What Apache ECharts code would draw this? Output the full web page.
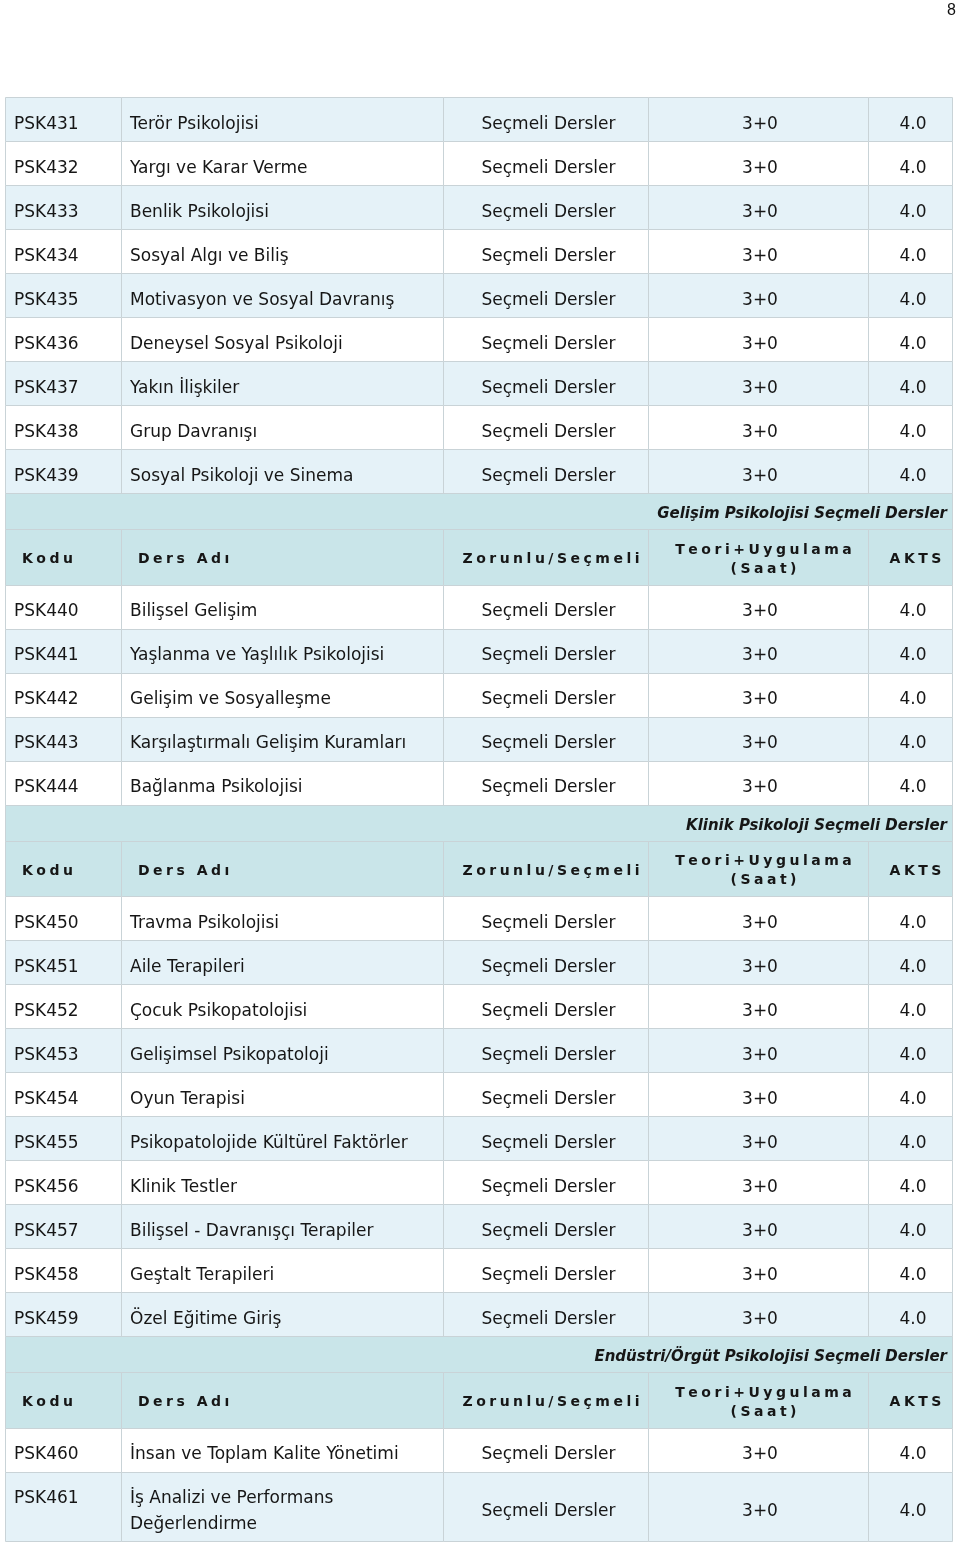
<!DOCTYPE html>
<html><head><meta charset="utf-8">
<script src="https://cdn.jsdelivr.net/npm/echarts@6/dist/echarts.min.js"></script>
<style>html,body{margin:0;padding:0;background:#fff}#c{width:960px;height:1548px}</style>
</head><body><div id="c"></div>
<script>
const pageNumber = '8';
const codes = ['PSK431','PSK432','PSK433','PSK434','PSK435','PSK436','PSK437','PSK438','PSK439',
  'PSK440','PSK441','PSK442','PSK443','PSK444',
  'PSK450','PSK451','PSK452','PSK453','PSK454','PSK455','PSK456','PSK457','PSK458','PSK459',
  'PSK460','PSK461'];
const names = ['Terör Psikolojisi','Yargı ve Karar Verme','Benlik Psikolojisi','Sosyal Algı ve Biliş',
  'Motivasyon ve Sosyal Davranış','Deneysel Sosyal Psikoloji','Yakın İlişkiler','Grup Davranışı',
  'Sosyal Psikoloji ve Sinema',
  'Bilişsel Gelişim','Yaşlanma ve Yaşlılık Psikolojisi','Gelişim ve Sosyalleşme',
  'Karşılaştırmalı Gelişim Kuramları','Bağlanma Psikolojisi',
  'Travma Psikolojisi','Aile Terapileri','Çocuk Psikopatolojisi','Gelişimsel Psikopatoloji',
  'Oyun Terapisi','Psikopatolojide Kültürel Faktörler','Klinik Testler',
  'Bilişsel - Davranışçı Terapiler','Geştalt Terapileri','Özel Eğitime Giriş',
  'İnsan ve Toplam Kalite Yönetimi','İş Analizi ve Performans Değerlendirme'];
const types = Array(26).fill('Seçmeli Dersler');
const hours = Array(26).fill('3+0');
const credits = Array(26).fill('4.0');
const sectionTitles = ['Gelişim Psikolojisi Seçmeli Dersler','Klinik Psikoloji Seçmeli Dersler',
  'Endüstri/Örgüt Psikolojisi Seçmeli Dersler'];
const sectionStarts = [9, 14, 24];
const headerLabels = ['Kodu','Ders Adı','Zorunlu/Seçmeli','Teori+Uygulama\n(Saat)','AKTS'];

// ---- layout ----
const FONT = '"DejaVu Sans", Verdana, sans-serif';
const colEdges = [0, 115.5, 438, 643, 863, 947];
const TOTAL_W = 947;
const ROW_H = 44, TITLE_H = 36, HEAD_H = 55.5, LINE_H = 26;
const BLUE = '#e5f2f8', TEAL = '#c9e5e9', BORDER = '#c9d3d7', TXT = '#161616';

const mctx = document.createElement('canvas').getContext('2d');
mctx.font = '17px ' + FONT;
function wrap(text, avail) {
  const words = text.split(' '); const lines = []; let cur = '';
  words.forEach(w => {
    const t = cur ? cur + ' ' + w : w;
    if (cur && mctx.measureText(t).width > avail) { lines.push(cur); cur = w; } else cur = t;
  });
  lines.push(cur); return lines;
}
const spaced = s => s.split('\n').map(l => l.split('').join('\u2005')).join('\n');

const rows = []; let y = 0;
function addData(i, blue) {
  const lines = wrap(names[i], colEdges[2] - colEdges[1] - 14);
  const h = ROW_H + (lines.length - 1) * (LINE_H - 1);
  rows.push({kind: 'data', i, blue, nameText: lines.join('\n'), y0: y, y1: y + h}); y += h;
}
const bounds = [0].concat(sectionStarts, [codes.length]);
for (let b = 0; b < bounds.length - 1; b++) {
  if (b > 0) {
    rows.push({kind: 'title', text: sectionTitles[b - 1], y0: y, y1: y + TITLE_H}); y += TITLE_H;
    rows.push({kind: 'header', y0: y, y1: y + HEAD_H}); y += HEAD_H;
  }
  for (let i = bounds[b], k = 0; i < bounds[b + 1]; i++, k++) addData(i, b === 0 ? k % 2 === 0 : k % 2 === 1);
}
const TOTAL_H = y;

function txt(text, x, yy, align, vAlign, font, extra) {
  return {type: 'text', silent: true, style: Object.assign({text, x, y: yy, align, verticalAlign: vAlign,
    font, fill: TXT, lineHeight: LINE_H}, extra || {})};
}
function renderItem(params, api) {
  const r = rows[params.dataIndex];
  const top = api.coord([0, r.y0])[1], bot = api.coord([0, r.y1])[1];
  const xs = colEdges.map(e => api.coord([e, r.y0])[0]);
  const h = bot - top;
  const px = v => Math.round(v) + 0.5;
  const children = [];
  const rect = (x0, x1, fill) => children.push({type: 'rect', silent: true,
    shape: {x: px(x0), y: px(top), width: Math.round(x1) - Math.round(x0), height: Math.round(bot) - Math.round(top)},
    style: {fill, stroke: BORDER, lineWidth: 1}});
  if (r.kind === 'title') {
    rect(xs[0], xs[5], TEAL);
    children.push(txt(r.text, xs[5] - 5, top + h / 2 + 3.5, 'right', 'middle', 'italic bold 15px ' + FONT));
  } else if (r.kind === 'header') {
    for (let c = 0; c < 5; c++) rect(xs[c], xs[c + 1], TEAL);
    const f = 'bold 14px ' + FONT;
    const cy = top + h / 2 + 3;
    children.push(txt(spaced(headerLabels[0]), xs[0] + 17, cy, 'left', 'middle', f, {lineHeight: 19}));
    children.push(txt(spaced(headerLabels[1]), xs[1] + 17.5, cy, 'left', 'middle', f, {lineHeight: 19}));
    for (let c = 2; c < 5; c++)
      children.push(txt(spaced(headerLabels[c]), (xs[c] + xs[c + 1]) / 2 + 5.5, cy, 'center', 'middle', f, {lineHeight: 19}));
  } else {
    const fill = r.blue ? BLUE : '#ffffff';
    for (let c = 0; c < 5; c++) rect(xs[c], xs[c + 1], fill);
    const f = '17px ' + FONT;
    const i = r.i;
    children.push(txt(codes[i], xs[0] + 9, top + 14.5, 'left', 'top', f));
    children.push(txt(r.nameText, xs[1] + 9.5, top + 14.5, 'left', 'top', f));
    const cy = top + h / 2 + 5.5;
    children.push(txt(types[i], (xs[2] + xs[3]) / 2 + 3, cy, 'center', 'middle', f));
    children.push(txt(hours[i], (xs[3] + xs[4]) / 2 + 2, cy, 'center', 'middle', f));
    children.push(txt(credits[i], (xs[4] + xs[5]) / 2 + 3, cy, 'center', 'middle', f));
  }
  return {type: 'group', children};
}

const chart = echarts.init(document.getElementById('c'), null, {renderer: 'canvas'});
chart.setOption({
  animation: false,
  backgroundColor: '#ffffff',
  title: {text: pageNumber, right: 4, top: 3, padding: 0,
    textStyle: {fontFamily: '"Liberation Sans", Arial, sans-serif', fontWeight: 'normal', fontSize: 16, color: '#111'}},
  grid: {left: 5, top: 97, width: TOTAL_W, height: TOTAL_H},
  xAxis: {type: 'value', min: 0, max: TOTAL_W, show: false},
  yAxis: {type: 'value', min: 0, max: TOTAL_H, inverse: true, show: false},
  series: [{type: 'custom', coordinateSystem: 'cartesian2d', clip: false,
    data: rows.map((r, k) => [k, r.y0]), renderItem}]
});
</script></body></html>
